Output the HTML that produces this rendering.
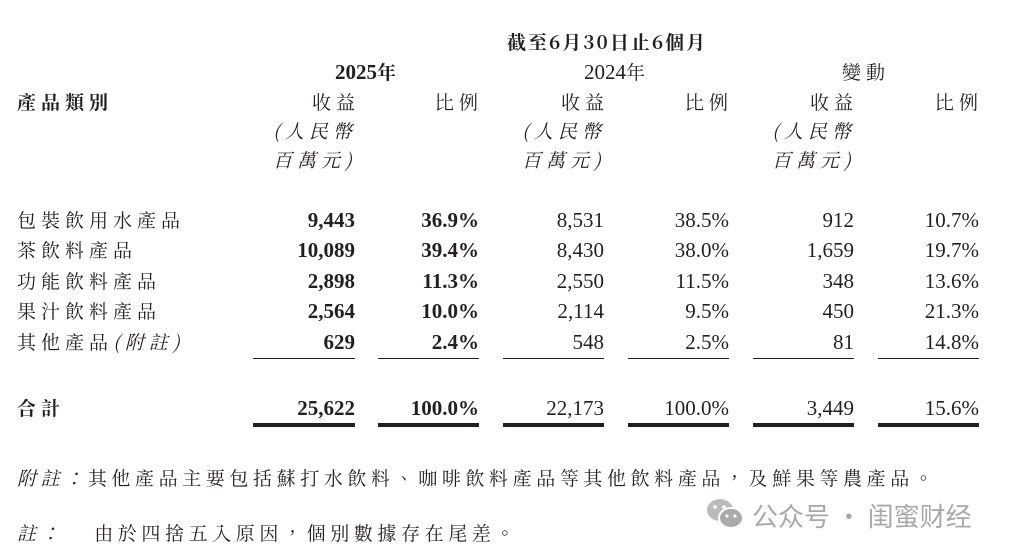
<!DOCTYPE html>
<html><head><meta charset="utf-8"><style>
body{margin:0;background:#fff;width:1011px;height:555px;position:relative;overflow:hidden;color:#231f20}
.t{position:absolute;font-family:"Liberation Serif","Noto Serif CJK SC",serif;font-size:21px;line-height:24px;white-space:nowrap}
.c{font-family:"Noto Serif CJK TC","Noto Serif CJK SC",serif;font-size:19px;letter-spacing:5px}
.r{text-align:right;width:200px}
.b{font-weight:bold}
.i{font-style:italic}
.ln{position:absolute;background:#231f20;height:1px}
.dl{position:absolute;background:#231f20;height:4px}
</style></head><body>
<div class="t c b" style="left:507px;top:30px;letter-spacing:2px;font-weight:bold">截至6月30日止6個月</div>
<div class="t b" style="left:335px;top:60px">2025<span class="c" style="letter-spacing:0">年</span></div>
<div class="t" style="left:584px;top:60px">2024<span class="c" style="letter-spacing:0">年</span></div>
<div class="t c" style="left:842px;top:60px">變動</div>
<div class="t c b" style="left:17px;top:90px">產品類別</div>

<div class="t c r" style="left:160px;top:90px">收益</div>
<div class="t c r" style="left:283px;top:90px">比例</div>
<div class="t c r" style="left:409px;top:90px">收益</div>
<div class="t c r" style="left:533px;top:90px">比例</div>
<div class="t c r" style="left:658px;top:90px">收益</div>
<div class="t c r" style="left:783px;top:90px">比例</div>
<div class="t c i" style="left:273px;top:119px">(人民幣</div>
<div class="t c i" style="left:273px;top:148px">百萬元)</div>
<div class="t c i" style="left:522px;top:119px">(人民幣</div>
<div class="t c i" style="left:522px;top:148px">百萬元)</div>
<div class="t c i" style="left:772px;top:119px">(人民幣</div>
<div class="t c i" style="left:772px;top:148px">百萬元)</div>

<div class="t c" style="left:17px;top:208px">包裝飲用水產品</div>
<div class="t c" style="left:17px;top:238px">茶飲料產品</div>
<div class="t c" style="left:17px;top:269px">功能飲料產品</div>
<div class="t c" style="left:17px;top:299px">果汁飲料產品</div>
<div class="t c" style="left:17px;top:330px">其他產品<span class="i">(附註)</span></div>
<div class="t c b" style="left:17px;top:396px">合計</div>

<div class="t r b" style="left:155px;top:208px">9,443</div>
<div class="t r b" style="left:279px;top:208px">36.9%</div>
<div class="t r" style="left:404px;top:208px">8,531</div>
<div class="t r" style="left:529px;top:208px">38.5%</div>
<div class="t r" style="left:654px;top:208px">912</div>
<div class="t r" style="left:779px;top:208px">10.7%</div>

<div class="t r b" style="left:155px;top:238px">10,089</div>
<div class="t r b" style="left:279px;top:238px">39.4%</div>
<div class="t r" style="left:404px;top:238px">8,430</div>
<div class="t r" style="left:529px;top:238px">38.0%</div>
<div class="t r" style="left:654px;top:238px">1,659</div>
<div class="t r" style="left:779px;top:238px">19.7%</div>

<div class="t r b" style="left:155px;top:269px">2,898</div>
<div class="t r b" style="left:279px;top:269px">11.3%</div>
<div class="t r" style="left:404px;top:269px">2,550</div>
<div class="t r" style="left:529px;top:269px">11.5%</div>
<div class="t r" style="left:654px;top:269px">348</div>
<div class="t r" style="left:779px;top:269px">13.6%</div>

<div class="t r b" style="left:155px;top:299px">2,564</div>
<div class="t r b" style="left:279px;top:299px">10.0%</div>
<div class="t r" style="left:404px;top:299px">2,114</div>
<div class="t r" style="left:529px;top:299px">9.5%</div>
<div class="t r" style="left:654px;top:299px">450</div>
<div class="t r" style="left:779px;top:299px">21.3%</div>

<div class="t r b" style="left:155px;top:330px">629</div>
<div class="t r b" style="left:279px;top:330px">2.4%</div>
<div class="t r" style="left:404px;top:330px">548</div>
<div class="t r" style="left:529px;top:330px">2.5%</div>
<div class="t r" style="left:654px;top:330px">81</div>
<div class="t r" style="left:779px;top:330px">14.8%</div>

<div class="t r b" style="left:155px;top:396px">25,622</div>
<div class="t r b" style="left:279px;top:396px">100.0%</div>
<div class="t r" style="left:404px;top:396px">22,173</div>
<div class="t r" style="left:529px;top:396px">100.0%</div>
<div class="t r" style="left:654px;top:396px">3,449</div>
<div class="t r" style="left:779px;top:396px">15.6%</div>

<div class="ln" style="left:253px;top:358px;width:102px"></div>
<div class="ln" style="left:378px;top:358px;width:101px"></div>
<div class="ln" style="left:503px;top:358px;width:101px"></div>
<div class="ln" style="left:628px;top:358px;width:101px"></div>
<div class="ln" style="left:753px;top:358px;width:101px"></div>
<div class="ln" style="left:878px;top:358px;width:101px"></div>
<div class="dl" style="left:253px;top:423px;width:102px"></div>
<div class="dl" style="left:378px;top:423px;width:101px"></div>
<div class="dl" style="left:503px;top:423px;width:101px"></div>
<div class="dl" style="left:628px;top:423px;width:101px"></div>
<div class="dl" style="left:753px;top:423px;width:101px"></div>
<div class="dl" style="left:878px;top:423px;width:101px"></div>

<div class="t c" style="left:17px;top:466px;letter-spacing:4.6px"><span class="i">附註：</span>其他產品主要包括蘇打水飲料、咖啡飲料產品等其他飲料產品，及鮮果等農產品。</div>
<div class="t c" style="left:17px;top:521px;letter-spacing:4.6px"><span class="i">註：</span><span style="display:inline-block;width:30px"></span>由於四捨五入原因，個別數據存在尾差。</div>

<svg style="position:absolute;left:706px;top:498px" width="40" height="32" viewBox="0 0 40 32">
<ellipse cx="14" cy="12" rx="13" ry="11" fill="#bbb"/>
<ellipse cx="25" cy="20" rx="12" ry="10" fill="#aaa" stroke="#fff" stroke-width="2"/>
<circle cx="9" cy="9" r="1.8" fill="#fff"/><circle cx="18" cy="9" r="1.8" fill="#fff"/>
<circle cx="21" cy="18" r="1.6" fill="#fff"/><circle cx="29" cy="18" r="1.6" fill="#fff"/>
</svg>
<div class="t" style="left:752px;top:499px;font-family:'Noto Sans CJK SC',sans-serif;font-size:26px;line-height:34px;color:#a8a8a8">公众号 · 闺蜜财经</div>
</body></html>
